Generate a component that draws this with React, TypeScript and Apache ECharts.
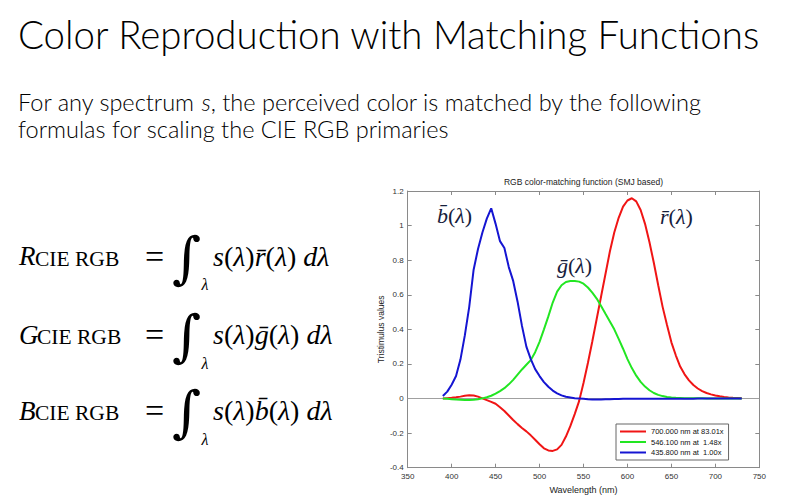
import React, { useEffect, useRef } from "react";
import * as echarts from "echarts";

const WAVELENGTHS = [
  390, 395, 400, 405, 410, 415, 420, 425, 430, 435, 440, 445, 450, 455, 460, 465, 470, 475, 480, 485,
  490, 495, 500, 505, 510, 515, 520, 525, 530, 535, 540, 545, 550, 555, 560, 565, 570, 575, 580, 585,
  590, 595, 600, 605, 610, 615, 620, 625, 630, 635, 640, 645, 650, 655, 660, 665, 670, 675, 680, 685,
  690, 695, 700, 705, 710, 715, 720, 725, 730,
];

const RED_VALUES = [
  0.0, 0.002, 0.004, 0.007, 0.011, 0.016, 0.019, 0.018, 0.011, 0.001, -0.009, -0.019, -0.03, -0.05, -0.072, -0.098, -0.124, -0.148, -0.17, -0.19,
  -0.213, -0.238, -0.264, -0.288, -0.3, -0.303, -0.294, -0.268, -0.22, -0.16, -0.09, -0.015, 0.09, 0.205, 0.33, 0.46, 0.59, 0.72, 0.85, 0.96,
  1.045, 1.11, 1.145, 1.158, 1.14, 1.09, 1.01, 0.905, 0.785, 0.655, 0.53, 0.425, 0.325, 0.25, 0.185, 0.14, 0.105, 0.078, 0.058, 0.043,
  0.032, 0.024, 0.018, 0.013, 0.009, 0.006, 0.004, 0.003, 0.002,
];

const GREEN_VALUES = [
  0.0, -0.002, -0.004, -0.006, -0.007, -0.008, -0.008, -0.007, -0.004, 0.001, 0.007, 0.016, 0.028, 0.043, 0.06, 0.082, 0.108, 0.138, 0.168, 0.195,
  0.222, 0.268, 0.328, 0.4, 0.475, 0.555, 0.618, 0.655, 0.674, 0.68, 0.68, 0.676, 0.664, 0.642, 0.612, 0.578, 0.535, 0.49, 0.446, 0.4,
  0.345, 0.288, 0.228, 0.176, 0.132, 0.096, 0.069, 0.048, 0.032, 0.021, 0.014, 0.009, 0.006, 0.004, 0.003, 0.002, 0.001, 0.001, 0.001, 0.001,
  0.0, 0.0, 0.0, 0.0, 0.0, 0.0, 0.0, 0.0, 0.0,
];

const BLUE_VALUES = [
  0.015, 0.04, 0.08, 0.13, 0.225, 0.365, 0.53, 0.745, 0.865, 0.96, 1.04, 1.1, 1.01, 0.91, 0.87, 0.76, 0.68, 0.56, 0.42, 0.3,
  0.228, 0.17, 0.13, 0.095, 0.068, 0.046, 0.03, 0.018, 0.01, 0.006, 0.002, 0.0, -0.002, -0.004, -0.005, -0.005, -0.005, -0.004, -0.004, -0.003,
  -0.003, -0.002, -0.002, -0.002, -0.002, -0.001, -0.001, -0.001, -0.001, -0.001, -0.001, -0.001, -0.001, -0.001, -0.001, -0.001, -0.001, -0.001, 0.0, 0.0,
  0.0, 0.0, 0.0, 0.0, 0.0, 0.0, 0.0, 0.0, 0.0,
];

const SERIES_NAMES = ["700.000 nm at 83.01x", "546.100 nm at  1.48x", "435.800 nm at  1.00x"];
const SERIES_COLORS = ["#f01515", "#22e622", "#1515d2"];

const SLIDE_TITLE = "Color Reproduction with Matching Functions";
const BODY_LINE_1A = "For any spectrum ";
const BODY_LINE_1B = "s";
const BODY_LINE_1C = ", the perceived color is matched by the following";
const BODY_LINE_2 = "formulas for scaling the CIE RGB primaries";
const CHART_TITLE = "RGB color-matching function (SMJ based)";
const X_NAME = "Wavelength (nm)";
const Y_NAME = "Tristimulus values";

const FORMULA_LETTERS = ["R", "G", "B"];
const FORMULA_FUNCS = ["r\u0304", "g\u0304", "b\u0304"];

function fitSize(text: string, font: string, target: number): number {
  const c = document.createElement("canvas").getContext("2d");
  if (!c) return 20;
  c.font = font.replace("SIZE", "100px");
  const w = c.measureText(text).width;
  return w > 0 ? (100 * target) / w : 20;
}

const AX = "#8a8a8a";
const SERIF = '"Liberation Serif", "DejaVu Serif", serif';
const SANS = '"Liberation Sans", Arial, sans-serif';
const MATH_INK = "#16203c";

export default function App() {
  const ref = useRef<HTMLDivElement>(null);

  useEffect(() => {
    if (!ref.current) return;
    const chart = echarts.init(ref.current, undefined, { renderer: "svg" });

    const titleSize = fitSize(SLIDE_TITLE, "normal 300 SIZE Lato", 743);
    const bodySize = fitSize(BODY_LINE_1A + BODY_LINE_1B + BODY_LINE_1C, "normal 300 SIZE Lato", 685);

    const toPairs = (vals: number[]) => WAVELENGTHS.map((w, i) => [w, vals[i]]);
    const allVals = [RED_VALUES, GREEN_VALUES, BLUE_VALUES];

    const graphic: any[] = [];
    const text = (x: number, y: number, style: any) => ({
      type: "text",
      x,
      y,
      silent: true,
      style: {
        fill: "#000",
        textAlign: "left",
        textVerticalAlign: "middle",
        align: "left",
        verticalAlign: "middle",
        ...style,
      },
    });

    graphic.push(
      text(18, 34, { text: SLIDE_TITLE, fontFamily: "Lato", fontWeight: 300, fontSize: titleSize })
    );
    graphic.push(
      text(18, 102, {
        text: `{n|${BODY_LINE_1A}}{i|${BODY_LINE_1B}}{n|${BODY_LINE_1C}}`,
        rich: {
          n: { fontFamily: "Lato", fontWeight: 300, fontSize: bodySize, fill: "#000" },
          i: { fontFamily: "Lato", fontWeight: 300, fontStyle: "italic", fontSize: bodySize, fill: "#000" },
        },
      })
    );
    graphic.push(
      text(18, 129, { text: BODY_LINE_2, fontFamily: "Lato", fontWeight: 300, fontSize: bodySize })
    );

    const rowBase = [265.5, 344, 420];
    const mathRich = {
      i: { fontFamily: SERIF, fontStyle: "italic", fontSize: 28, fill: "#000" },
      n: { fontFamily: SERIF, fontSize: 28, fill: "#000" },
    };
    rowBase.forEach((b, k) => {
      const mid = b - 9.2;
      graphic.push(text(19, mid, { text: FORMULA_LETTERS[k], fontFamily: SERIF, fontStyle: "italic", fontSize: 27 }));
      graphic.push(text(k === 1 ? 37 : 35, b - 7, { text: "CIE RGB", fontFamily: SERIF, fontSize: 21.5 }));
      graphic.push(text(145, mid, { text: "=", fontFamily: SERIF, fontSize: 34 }));
      graphic.push(text(172, mid + 1, { text: "\u222B", fontFamily: '"DejaVu Serif", serif', fontStyle: "italic", fontSize: 56 }));
      graphic.push(text(201.5, b + 19, { text: "\u03BB", fontFamily: SERIF, fontStyle: "italic", fontSize: 16 }));
      graphic.push(
        text(213, mid, {
          text: `{i|s}{n|(}{i|\u03BB}{n|)}{i|${FORMULA_FUNCS[k]}}{n|(}{i|\u03BB}{n|)}{n| }{i|d\u03BB}`,
          rich: mathRich,
        })
      );
    });

    const labelRich = {
      i: { fontFamily: SERIF, fontStyle: "italic", fontSize: 22, fill: MATH_INK },
      n: { fontFamily: SERIF, fontSize: 22, fill: MATH_INK },
    };
    const curveLabels: [number, number, string][] = [
      [437, 215, FORMULA_FUNCS[2]],
      [557, 265, FORMULA_FUNCS[1]],
      [660, 216, FORMULA_FUNCS[0]],
    ];
    curveLabels.forEach(([x, y, f]) => {
      graphic.push(text(x, y, { text: `{i|${f}}{n|(}{i|\u03BB}{n|)}`, rich: labelRich }));
    });

    graphic.push({
      type: "text",
      x: 583.5,
      y: 181.5,
      silent: true,
      style: {
        text: CHART_TITLE,
        fontFamily: SANS,
        fontSize: 8.5,
        fill: "#222",
        textAlign: "center",
        align: "center",
        textVerticalAlign: "middle",
        verticalAlign: "middle",
      },
    });

    const axisCommon = {
      axisLine: { show: true, onZero: false, lineStyle: { color: AX, width: 1 } },
      axisTick: { show: true, inside: true, length: 4, lineStyle: { color: AX } },
      splitLine: { show: false },
    };

    const option: any = {
      animation: false,
      backgroundColor: "#ffffff",
      grid: {
        left: 407.7,
        top: 191,
        width: 351.6,
        height: 276.7,
        containLabel: false,
        outerBoundsMode: "none",
      },
      xAxis: [
        {
          type: "value",
          min: 350,
          max: 750,
          interval: 50,
          position: "bottom",
          ...axisCommon,
          axisLabel: { margin: 5, fontSize: 8, color: "#333", fontFamily: SANS },
          name: X_NAME,
          nameLocation: "middle",
          nameGap: 13,
          nameTextStyle: { fontSize: 9, color: "#222", fontFamily: SANS },
        },
        {
          type: "value",
          min: 350,
          max: 750,
          interval: 50,
          position: "top",
          ...axisCommon,
          axisLabel: { show: false },
        },
      ],
      yAxis: [
        {
          type: "value",
          min: -0.4,
          max: 1.2,
          interval: 0.2,
          position: "left",
          ...axisCommon,
          axisLabel: { margin: 4, fontSize: 8, color: "#333", fontFamily: SANS },
          name: Y_NAME,
          nameLocation: "middle",
          nameGap: 22,
          nameTextStyle: { fontSize: 8.5, color: "#222", fontFamily: SANS },
        },
        {
          type: "value",
          min: -0.4,
          max: 1.2,
          interval: 0.2,
          position: "right",
          ...axisCommon,
          axisLabel: { show: false },
        },
      ],
      legend: {
        orient: "vertical",
        left: 616,
        top: 424,
        icon: "rect",
        itemWidth: 26,
        itemHeight: 2,
        itemGap: 1.5,
        padding: [3, 5, 3, 4],
        borderColor: "#666",
        borderWidth: 1,
        backgroundColor: "#ffffff",
        textStyle: { fontSize: 7.5, color: "#111", fontFamily: SANS, lineHeight: 9 },
        data: SERIES_NAMES,
      },
      series: SERIES_NAMES.map((name, i) => ({
        name,
        type: "line",
        xAxisIndex: 0,
        yAxisIndex: 0,
        data: toPairs(allVals[i]),
        showSymbol: false,
        symbol: "none",
        color: SERIES_COLORS[i],
        lineStyle: { color: SERIES_COLORS[i], width: 2 },
        z: 3 + i,
        markLine:
          i === 0
            ? {
                silent: true,
                symbol: "none",
                data: [{ yAxis: 0 }],
                lineStyle: { color: "#a0a0a0", width: 1.2, type: "solid" },
                label: { show: false },
                z: 1,
              }
            : undefined,
      })),
      graphic,
    };

    chart.setOption(option);
    return () => chart.dispose();
  }, []);

  return (
    <div
      ref={ref}
      style={{ position: "fixed", left: 0, top: 0, width: 786, height: 500, background: "#fff" }}
    />
  );
}
